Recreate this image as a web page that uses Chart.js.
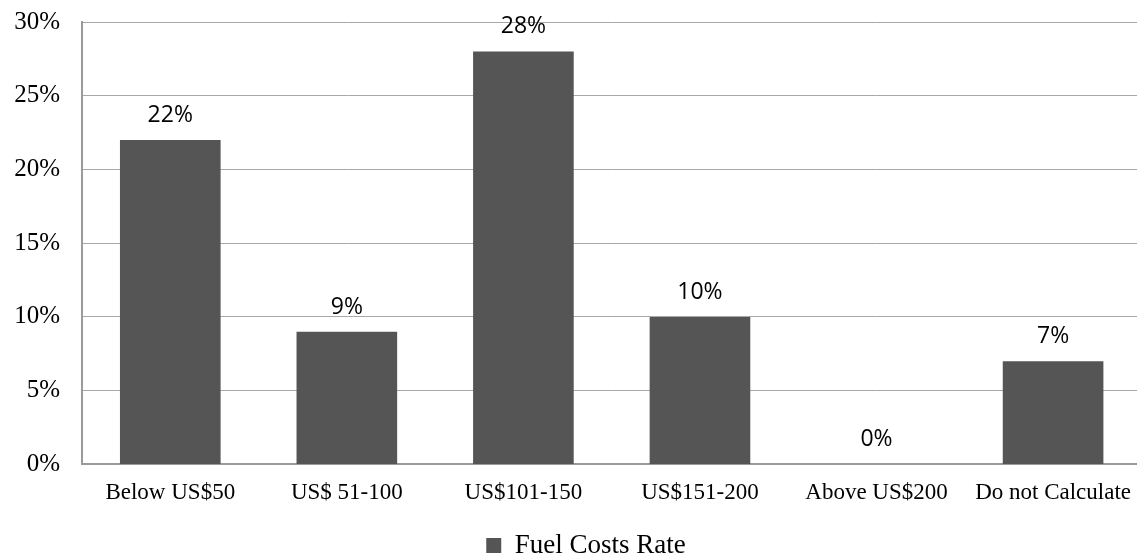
<!DOCTYPE html>
<html>
<head>
<meta charset="utf-8">
<script src="https://cdn.jsdelivr.net/npm/chart.js@4.4.0/dist/chart.umd.min.js"></script>
<style>
  html, body { margin: 0; padding: 0; background: #fff; overflow: hidden; }
  #wrap { width: 1146px; height: 556px; }
</style>
</head>
<body>
<div id="wrap"><canvas id="chart" width="1146" height="556"></canvas></div>
<script>
const categories = ['Below US$50', 'US$ 51-100', 'US$101-150', 'US$151-200', 'Above US$200', 'Do not Calculate'];
const fuelCosts = [22, 9, 28, 10, 0, 7];
const yTicks = [0, 5, 10, 15, 20, 25, 30];

// value labels above each bar
const barLabels = {
  id: 'barLabels',
  afterDatasetsDraw(chart) {
    const ctx = chart.ctx;
    const meta = chart.getDatasetMeta(0);
    ctx.save();
    ctx.font = '23px "Open Sans"';
    ctx.fillStyle = '#000';
    ctx.textAlign = 'center';
    ctx.textBaseline = 'alphabetic';
    meta.data.forEach((bar, i) => {
      ctx.fillText(fuelCosts[i] + '%', bar.x, bar.y - 18);
    });
    ctx.restore();
  }
};

// nudge the legend a bit to the right, like the original
const legendShift = {
  id: 'legendShift',
  afterLayout(chart) {
    chart.legend.left += 13;
    chart.legend.right += 13;
  }
};

new Chart(document.getElementById('chart'), {
  type: 'bar',
  data: {
    labels: categories,
    datasets: [{
      label: 'Fuel Costs Rate',
      data: fuelCosts,
      backgroundColor: '#555555',
      borderWidth: 0,
      barPercentage: 0.57,
      categoryPercentage: 1
    }]
  },
  options: {
    responsive: false,
    animation: false,
    layout: { padding: { left: 0, right: 0, top: 22, bottom: -13 } },
    plugins: {
      tooltip: { enabled: false },
      legend: {
        position: 'bottom',
        labels: {
          color: '#000',
          font: { family: '"Liberation Serif"', size: 27 },
          boxWidth: 15,
          boxHeight: 15,
          padding: 10
        }
      }
    },
    scales: {
      x: {
        grid: { display: false, drawTicks: false },
        border: { display: true, color: '#9a9a9a', width: 2 },
        ticks: {
          color: '#000',
          font: { family: '"Liberation Serif"', size: 23 },
          padding: 15,
          maxRotation: 0,
          autoSkip: false
        }
      },
      y: {
        min: 0,
        max: 30,
        afterBuildTicks(axis) {
          axis.ticks = yTicks.map(v => ({ value: v }));
        },
        afterFit(axis) {
          axis.width = 82;
          axis.paddingTop = 15;
          axis.paddingBottom = 15;
        },
        grid: { color: '#a8a8a8', lineWidth: 1, drawTicks: false },
        border: { display: true, color: '#9a9a9a', width: 2 },
        ticks: {
          color: '#000',
          font: { family: '"Liberation Serif"', size: 25 },
          padding: 22,
          callback: v => v + '%'
        }
      }
    }
  },
  plugins: [barLabels, legendShift]
});
</script>
</body>
</html>
